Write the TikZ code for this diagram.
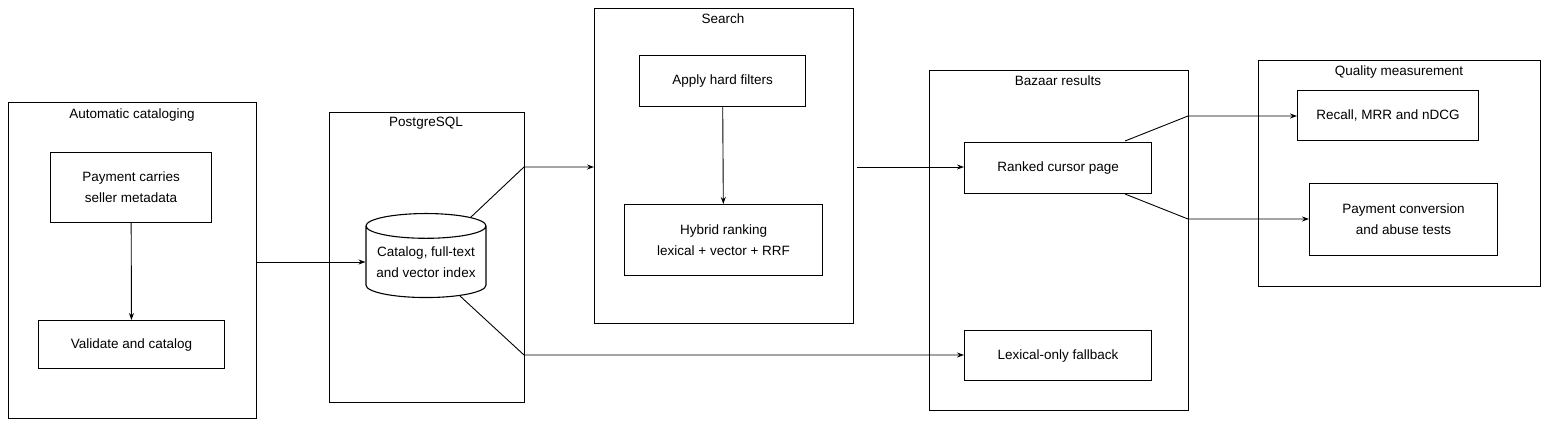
\documentclass[tikz,border=0pt]{standalone}
\usepackage{fontspec}
\setmainfont{Liberation Sans}
\usetikzlibrary{shapes.geometric,arrows.meta}
\begin{document}
\begin{tikzpicture}[x=1pt,y=-1pt,
  box/.style={draw,line width=1.1pt,anchor=north west,inner sep=0pt,align=center,font=\fontsize{13.5}{21}\selectfont},
  cont/.style={draw,line width=1pt,anchor=north west,inner sep=0pt},
  ttl/.style={font=\fontsize{13.5}{16}\selectfont,anchor=north},
  arr/.style={-{Stealth[length=7pt,width=5pt]},line width=0.9pt}]
\useasboundingbox (0,0) rectangle (1568,432);
% containers
\node[cont,minimum width=248,minimum height=316] (c1) at (8,102) {};
\node[ttl] (t1) at (132,105) {Automatic cataloging};
\node[cont,minimum width=195,minimum height=290] (c2) at (329,112) {};
\node[ttl] (t2) at (426,114) {PostgreSQL};
\node[cont,minimum width=259,minimum height=315] (c3) at (594,8) {};
\node[ttl] (t3) at (723,10) {Search};
\node[cont,minimum width=259,minimum height=340] (c4) at (929,70) {};
\node[ttl] (t4) at (1058,72) {Bazaar results};
\node[cont,minimum width=282,minimum height=226] (c5) at (1258,60) {};
\node[ttl] (t5) at (1399,62) {Quality measurement};
% boxes
\node[box,minimum width=161,minimum height=70] (pay) at (50,152) {Payment carries\\seller metadata};
\node[box,minimum width=186,minimum height=48] (val) at (38,320) {Validate and catalog};
\node[draw,line width=1.1pt,shape=cylinder,shape border rotate=90,aspect=0.25,minimum width=120,minimum height=84,align=center,inner sep=0pt,font=\fontsize{13.5}{21}\selectfont] (db) at (426,262) {Catalog, full-text\\and vector index};
\node[box,minimum width=166,minimum height=51] (hf) at (639,55) {Apply hard filters};
\node[box,minimum width=198,minimum height=71] (hy) at (624,204) {Hybrid ranking\\lexical + vector + RRF};
\node[box,minimum width=187,minimum height=51] (rk) at (964,142) {Ranked cursor page};
\node[box,minimum width=187,minimum height=50] (lx) at (964,330) {Lexical-only fallback};
\node[box,minimum width=181,minimum height=50] (rc) at (1297,90) {Recall, MRR and nDCG};
\node[box,minimum width=188,minimum height=72] (pc) at (1309,183) {Payment conversion\\and abuse tests};
% connectors
\draw[arr] (pay) -- (val);
\draw[arr] (c1.east |- 0,262) -- (db.west |- 0,262);
\draw[arr] (hf) -- (hy);
\draw[arr] (db.north east) -- (524,167) -- (c3.west |- 0,167);
\draw[arr] (db.south east) -- (524,355) -- (lx.west |- 0,355);
\draw[arr] (c3.east |- 0,167) ++(3,0) -- (rk.west |- 0,167);
\draw[arr] (1125,141) -- (1188,116) -- (rc.west |- 0,116);
\draw[arr] (1125,194) -- (1188,219) -- (pc.west |- 0,219);
\end{tikzpicture}
\end{document}
